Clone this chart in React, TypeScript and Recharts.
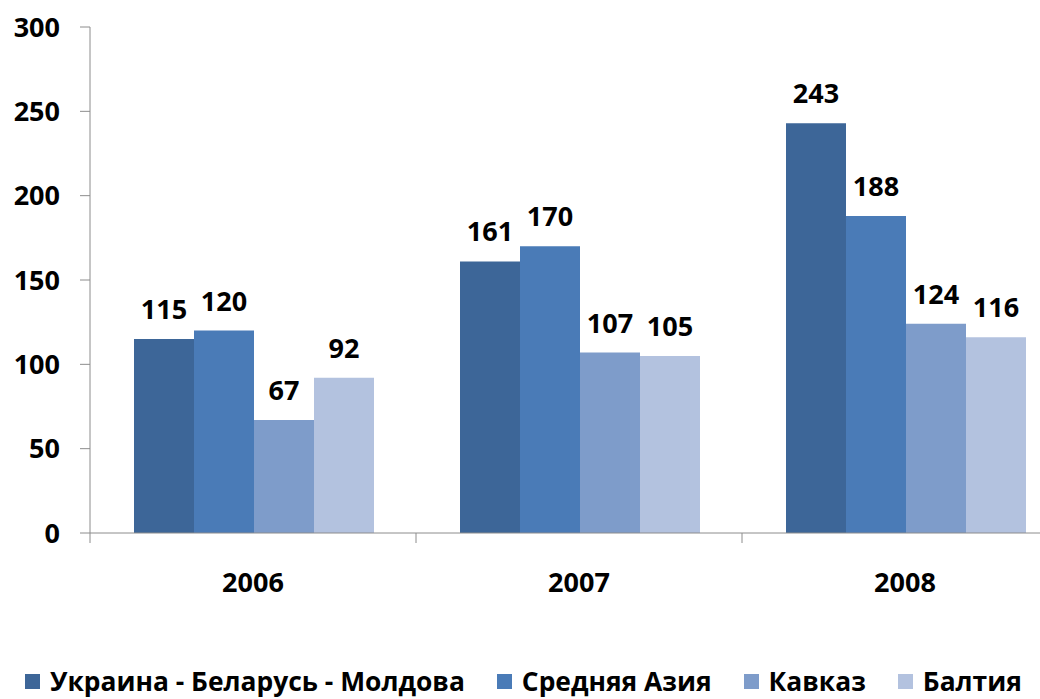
import { BarChart, Bar, XAxis, YAxis, LabelList, Legend } from 'recharts'

const years = ['2006', '2007', '2008']
const ukraineBelarusMoldova = [115, 161, 243]
const centralAsia = [120, 170, 188]
const caucasus = [67, 107, 124]
const baltics = [92, 105, 116]
const yTicks = [0, 50, 100, 150, 200, 250, 300]

const seriesList = [
  { key: 'ubm', name: 'Украина - Беларусь - Молдова', values: ukraineBelarusMoldova, color: '#3D6698' },
  { key: 'asia', name: 'Средняя Азия', values: centralAsia, color: '#4A7BB7' },
  { key: 'cauc', name: 'Кавказ', values: caucasus, color: '#7E9CCA' },
  { key: 'balt', name: 'Балтия', values: baltics, color: '#B3C2DF' },
]

const data = years.map((year, i) => {
  const row: Record<string, string | number> = { year }
  seriesList.forEach((s) => {
    row[s.key] = s.values[i]
  })
  return row
})

const FONT = '"Open Sans", sans-serif'
const AXIS = '#8c8c8c'

function YearTick(props: any) {
  const { x, y, payload, index, visibleTicksCount } = props
  const half = payload?.offset ?? 163
  const left = x - half
  const right = x + half
  return (
    <g>
      <line x1={left} y1={y} x2={left} y2={y + 10} stroke={AXIS} strokeWidth={1} />
      {index === visibleTicksCount - 1 ? (
        <line x1={right} y1={y} x2={right} y2={y + 10} stroke={AXIS} strokeWidth={1} />
      ) : null}
      <text x={x} y={y + 59} textAnchor="middle" fill="#000" fontFamily={FONT} fontWeight={700} fontSize={27}>
        {payload.value}
      </text>
    </g>
  )
}

function LegendContent() {
  return (
    <div style={{ display: 'flex', alignItems: 'center', height: 30, fontFamily: FONT, fontWeight: 700, fontSize: 26.4, lineHeight: '30px', whiteSpace: 'nowrap' }}>
      {seriesList.map((s, i) => (
        <div key={s.key} style={{ display: 'flex', alignItems: 'center', marginRight: i < seriesList.length - 1 ? 32 : 0 }}>
          <span style={{ display: 'inline-block', width: 15, height: 15, background: s.color, marginRight: 10 }} />
          <span style={{ color: '#000' }}>{s.name}</span>
        </div>
      ))}
    </div>
  )
}

export default function App() {
  return (
    <div style={{ position: 'fixed', left: 0, top: 0, width: 1040, height: 699, overflow: 'hidden', background: '#fff' }}>
      <BarChart
        width={1080}
        height={699}
        data={data}
        margin={{ top: 27, right: 12, bottom: 6, left: 0 }}
        barCategoryGap={44}
        barGap={0}
      >
        <XAxis
          dataKey="year"
          axisLine={{ stroke: AXIS }}
          tickLine={false}
          tickSize={0}
          tickMargin={0}
          height={130}
          tick={<YearTick />}
          interval={0}
        />
        <YAxis
          domain={[0, 300]}
          ticks={yTicks}
          width={90}
          axisLine={{ stroke: AXIS }}
          tickLine={{ stroke: AXIS }}
          tickSize={10}
          tickMargin={20}
          tick={{ fill: '#000', fontFamily: FONT, fontWeight: 700, fontSize: 27 }}
          interval={0}
        />
        <Legend
          verticalAlign="bottom"
          align="left"
          height={30}
          wrapperStyle={{ left: 25, top: 666, bottom: 'auto' }}
          content={<LegendContent />}
        />
        {seriesList.map((s) => (
          <Bar key={s.key} dataKey={s.key} name={s.name} fill={s.color} isAnimationActive={false}>
            <LabelList
              dataKey={s.key}
              position="top"
              offset={20}
              fill="#000"
              fontFamily={FONT}
              fontWeight={700}
              fontSize={27}
            />
          </Bar>
        ))}
      </BarChart>
    </div>
  )
}
